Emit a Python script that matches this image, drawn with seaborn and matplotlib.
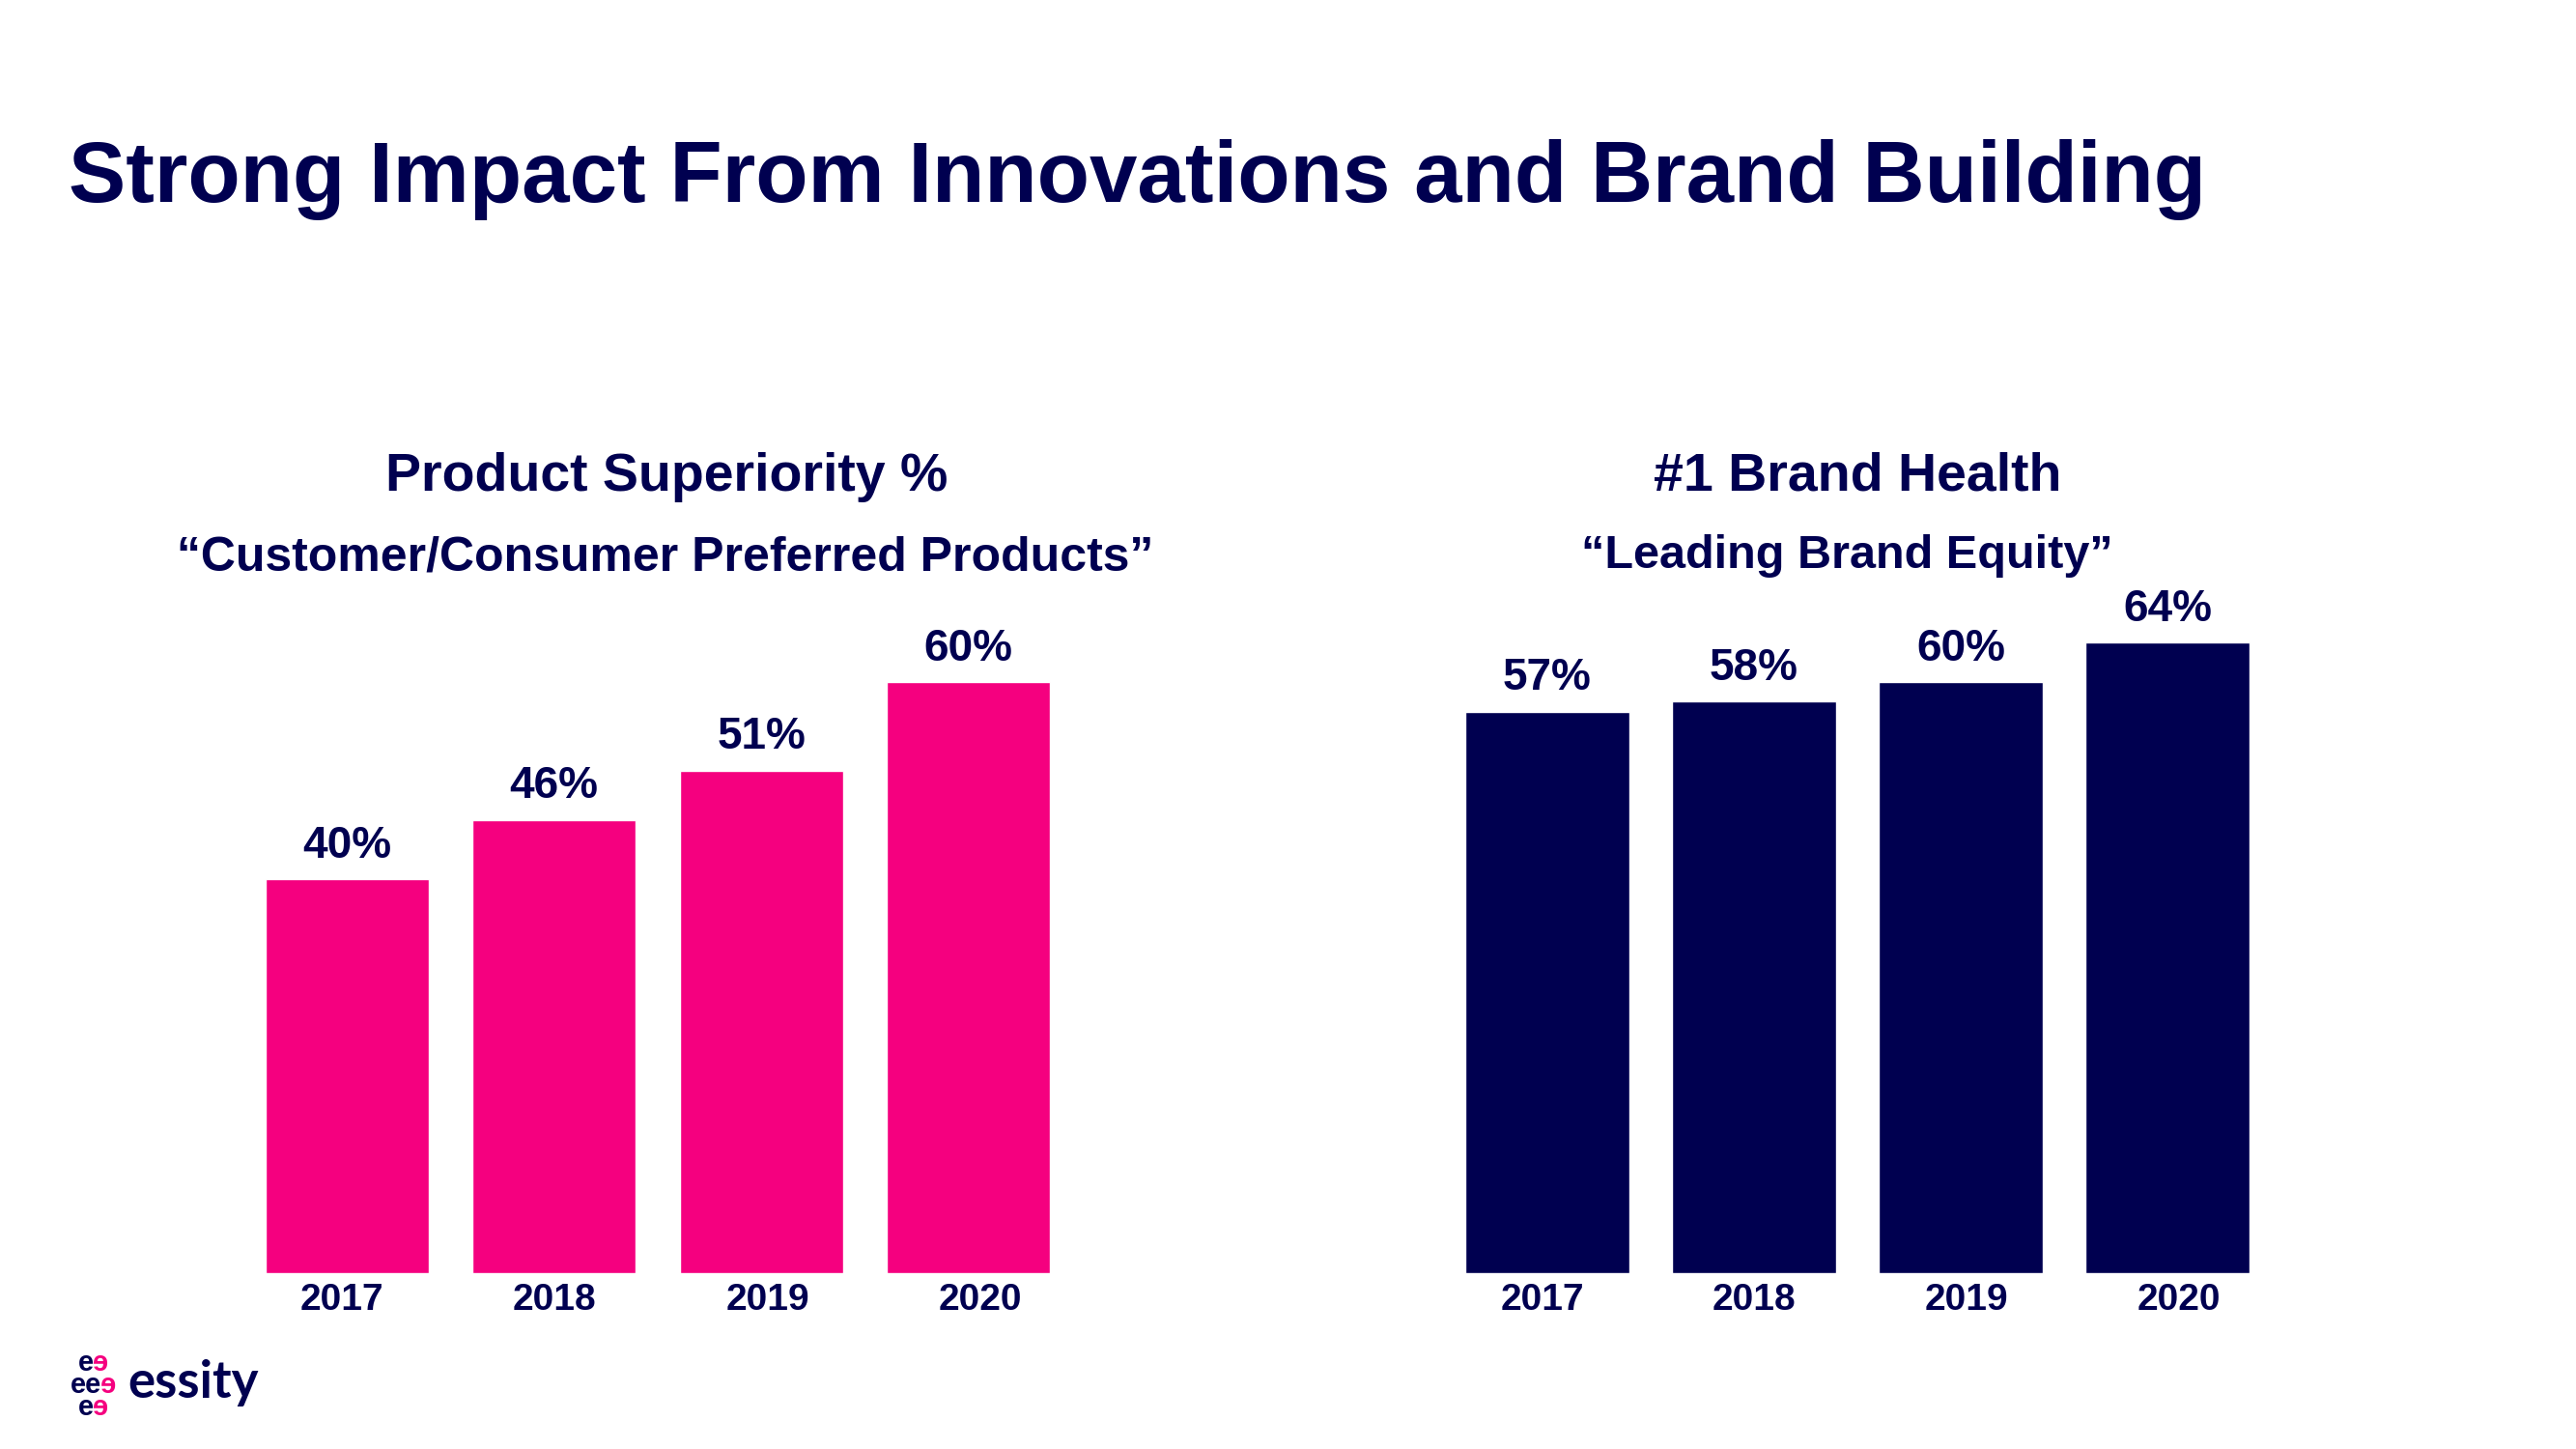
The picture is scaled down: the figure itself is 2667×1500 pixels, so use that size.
import matplotlib
matplotlib.use("Agg")
import matplotlib.pyplot as plt
import seaborn as sns
import pandas as pd

# Data
years = ["2017", "2018", "2019", "2020"]
product_superiority = [40, 46, 51, 60]
brand_health = [57, 58, 60, 64]

title = "Strong Impact From Innovations and Brand Building"
left_title = "Product Superiority %"
left_subtitle = "\u201cCustomer/Consumer Preferred Products\u201d"
right_title = "#1 Brand Health"
right_subtitle = "\u201cLeading Brand Equity\u201d"

PINK = "#F5007F"
NAVY = "#000050"

sns.set_style("white")
plt.rcParams["font.family"] = ["Liberation Sans", "DejaVu Sans"]

W, H = 2667, 1500
fig = plt.figure(figsize=(W / 100, H / 100), dpi=100)


def px(x, y):
    # pixel position (from top-left) to figure fraction
    return x / W, 1 - y / H


def draw_bars(ax, values, color):
    df = pd.DataFrame({"year": years, "value": values})
    sns.barplot(data=df, x="year", y="value", color=color, width=0.79,
                saturation=1, ax=ax)
    ax.set_ylim(0, 70)
    ax.set_xlim(-0.5, 3.5)
    ax.bar_label(ax.containers[0], labels=[f"{v}%" for v in values],
                 padding=9, fontsize=33, fontweight="bold", color=NAVY)
    # year labels sit a little wider apart than the bars in the original
    ax.set_xticks([i * 1.027 - 0.025 for i in range(len(years))])
    ax.set_xticklabels(years)
    ax.set_xlabel("")
    ax.set_ylabel("")
    ax.set_yticks([])
    ax.tick_params(axis="x", length=0, pad=7, labelsize=28, labelcolor=NAVY)
    for lab in ax.get_xticklabels():
        lab.set_fontweight("bold")
    sns.despine(ax=ax, left=True, bottom=True)


ax1 = fig.add_axes([252 / W, 1 - 1318 / H, 858 / W, 714 / H])
draw_bars(ax1, product_superiority, PINK)

ax2 = fig.add_axes([1495 / W, 1 - 1318 / H, 856 / W, 714 / H])
draw_bars(ax2, brand_health, NAVY)

# Titles
fig.text(*px(71, 209), title, fontsize=64, fontweight="bold", color=NAVY,
         ha="left", va="baseline")
fig.text(*px(690, 508), left_title, fontsize=40, fontweight="bold",
         color=NAVY, ha="center", va="baseline")
fig.text(*px(689, 590), left_subtitle, fontsize=36, fontweight="bold",
         color=NAVY, ha="center", va="baseline")
fig.text(*px(1923, 508), right_title, fontsize=40, fontweight="bold",
         color=NAVY, ha="center", va="baseline")
fig.text(*px(1912, 588), right_subtitle, fontsize=35, fontweight="bold",
         color=NAVY, ha="center", va="baseline")

# Logo: navy e's and mirrored pink e's interlock, then the wordmark
logo_font = ["Liberation Sans", "DejaVu Sans"]
fig.text(*px(89, 1434), "e\nee\ne", fontsize=21, fontweight="bold",
         color=NAVY, ha="center", va="center", multialignment="center",
         linespacing=0.78, family=logo_font)
fig.text(*px(96, 1434), "\u0258\n \u0258\n\u0258", fontsize=21,
         fontweight="bold", color=PINK, ha="left", va="center",
         multialignment="left", linespacing=0.78, family=logo_font)
fig.text(*px(132, 1447), "essity", fontsize=38, fontweight="bold",
         color=NAVY, ha="left", va="baseline", family="Lato")

fig.savefig("out.png", dpi=100, facecolor="white")
